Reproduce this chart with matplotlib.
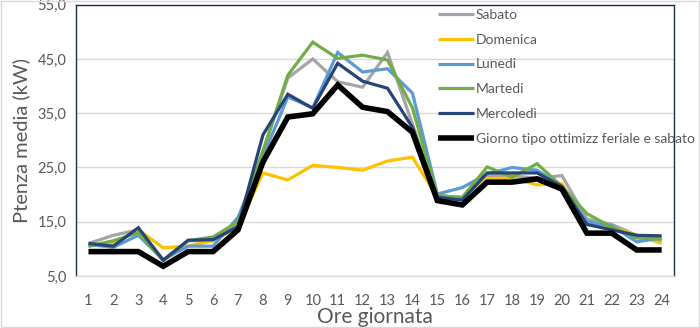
import matplotlib
matplotlib.use("Agg")
import matplotlib.pyplot as plt
from matplotlib.patches import Rectangle

hours = list(range(1, 25))
sabato = [11.0, 12.5, 13.5, 8.0, 11.5, 11.5, 14.5, 28.0, 41.5, 45.0, 40.8, 39.8, 46.2, 33.0,
          20.0, 19.2, 23.5, 23.5, 23.0, 23.5, 15.5, 14.5, 12.5, 11.5]
domenica = [10.5, 11.0, 13.5, 10.2, 10.5, 11.5, 14.0, 24.0, 22.7, 25.4, 25.0, 24.5, 26.2, 26.9,
            19.5, 19.5, 23.0, 23.0, 21.8, 22.0, 14.5, 14.0, 12.5, 11.0]
lunedi = [10.8, 10.3, 12.5, 8.0, 10.5, 10.5, 15.8, 27.0, 38.0, 36.0, 46.2, 42.6, 43.2, 38.7,
          20.1, 21.3, 23.8, 25.0, 24.5, 21.5, 15.0, 14.2, 11.3, 12.0]
martedi = [10.5, 11.5, 13.0, 7.8, 11.5, 12.2, 15.0, 28.0, 42.0, 48.1, 45.1, 45.7, 44.8, 36.0,
           19.8, 19.5, 25.1, 23.2, 25.7, 21.5, 16.5, 14.0, 12.0, 11.8]
mercoledi = [11.0, 10.5, 13.9, 7.9, 11.6, 11.7, 14.1, 31.0, 38.5, 35.9, 44.2, 40.9, 39.6, 32.4,
             19.5, 19.0, 24.0, 24.0, 24.0, 21.5, 14.5, 13.5, 12.5, 12.4]
giorno_tipo = [9.5, 9.5, 9.5, 6.8, 9.5, 9.5, 13.5, 26.0, 34.3, 34.9, 40.2, 36.1, 35.3, 31.5,
               18.9, 18.1, 22.3, 22.3, 22.9, 21.0, 12.9, 12.9, 9.8, 9.8]

series_labels = ["Sabato", "Domenica", "Lunedi", "Martedi", "Mercoledì",
                 "Giorno tipo ottimizz feriale e sabato"]
y_ticks = [5, 15, 25, 35, 45, 55]

colors = ["#A5A5A5", "#FFC000", "#5B9BD5", "#70AD47", "#264478", "#000000"]
widths = [2.3, 2.3, 2.3, 2.3, 2.3, 4.0]
data = [sabato, domenica, lunedi, martedi, mercoledi, giorno_tipo]

plt.rcParams['font.family'] = ['Lato', 'DejaVu Sans']

fig = plt.figure(figsize=(7.0, 3.28), dpi=100)
ax = fig.add_axes([0.1086, 0.1585, 0.963 - 0.1086, 0.9857 - 0.1585])

handles = []
for vals, lab, c, w in zip(data, series_labels, colors, widths):
    h, = ax.plot(hours, vals, color=c, linewidth=w, label=lab, solid_joinstyle='miter',
                 solid_capstyle='butt', zorder=3)
    handles.append(h)

ax.set_xlim(0.5, 24.5)
ax.set_ylim(5, 55)
ax.set_yticks(y_ticks)
ax.set_yticklabels([f"{v:.1f}".replace(".", ",") for v in y_ticks])
ax.set_xticks(hours)
ax.set_xticklabels([str(h) for h in hours])
ax.tick_params(axis='both', length=0, labelsize=10.5, colors="#595959")
ax.tick_params(axis='x', pad=13)
ax.tick_params(axis='y', pad=7)
ax.grid(axis='y', color="#D9D9D9", linewidth=1.0, zorder=0)
ax.set_axisbelow(True)

for s in ['left', 'top', 'right']:
    ax.spines[s].set_color("#1F2D4D")
    ax.spines[s].set_linewidth(1.0)
ax.spines['bottom'].set_color("#D9D9D9")
ax.spines['bottom'].set_linewidth(1.0)

ax.set_ylabel("Ptenza media (kW)", fontsize=14.5, color="#595959", labelpad=5)
ax.set_xlabel("Ore giornata", fontsize=15, color="#595959", labelpad=-1)

leg = fig.legend(handles=handles, loc='upper left', bbox_to_anchor=(0.618, 0.99),
                 frameon=False, fontsize=10, handlelength=2.6, handletextpad=0.1,
                 labelspacing=0.92, borderaxespad=0)
for t in leg.get_texts():
    t.set_color("#595959")

fig.patches.append(Rectangle((0.002, 0.003), 0.996, 0.994, transform=fig.transFigure,
                             fill=False, edgecolor="#D9D9D9", linewidth=1.0))

fig.savefig("out.png", dpi=100)
